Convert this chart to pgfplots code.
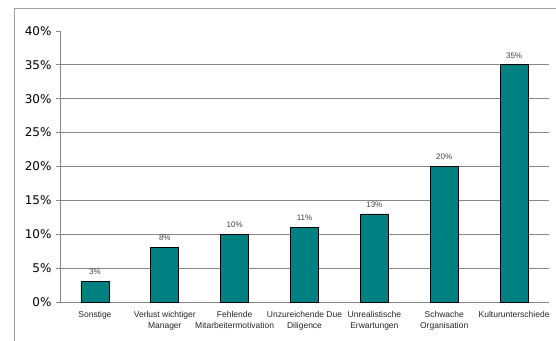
\documentclass[border=0pt]{standalone}
\usepackage{pgfplots}
\pgfplotsset{compat=1.18}
\usepackage{fontspec}
\setmainfont{Liberation Sans}
\newfontfamily\dejavu{DejaVu Sans}
\definecolor{barteal}{HTML}{008080}
\definecolor{gridgray}{HTML}{868686}
\definecolor{framegray}{HTML}{A0A0A0}
\begin{document}
\begin{tikzpicture}
\path[use as bounding box] (0pt,0pt) rectangle (556pt,340pt);
\draw[framegray, line width=1pt] (14pt,-5pt) -- (14pt,331pt) -- (560pt,331pt);
\begin{axis}[
  at={(60pt,38pt)}, anchor=south west,
  scale only axis, width=489pt, height=271pt,
  xmin=-0.5, xmax=6.5, ymin=0, ymax=40,
  axis x line*=bottom, axis y line*=left,
  axis line style={gridgray, line width=0.8pt},
  x axis line style={-}, y axis line style={-},
  ytick={0,5,...,35},
  extra y ticks={40}, extra y tick style={grid=none},
  yticklabel={{\dejavu\pgfmathprintnumber{\tick}\%}},
  extra y tick labels={{\dejavu 40\%}},
  ymajorgrids, grid style={gridgray, line width=0.8pt},
  major tick length=4pt,
  ytick style={gridgray, line width=0.8pt},
  tick align=outside,
  yticklabel style={font=\fontsize{12}{14}\selectfont, text=black, xshift=-1pt},
  xtick={0,...,6},
  xticklabels={Sonstige, Verlust wichtiger\\Manager, Fehlende\\Mitarbeitermotivation, Unzureichende Due\\Diligence, Unrealistische\\Erwartungen, Schwache\\Organisation, Kulturunterschiede},
  xticklabel style={font=\fontsize{8.5}{11}\selectfont, align=center, text=black!85, anchor=north, yshift=-2pt},
  x tick style={draw=none},
  minor xtick={-0.5,0.5,...,6.5},
  minor tick length=4pt,
  minor x tick style={gridgray, line width=0.8pt},
  /pgf/number format/assume math mode=true,
  clip=false,
]
\addplot[ybar, bar width=28pt, fill=barteal, draw=black, line width=0.8pt,
  nodes near coords={\pgfmathprintnumber{\pgfplotspointmeta}\%},
  every node near coord/.append style={font=\fontsize{8}{9}\selectfont, text=black!75, yshift=3pt}]
  coordinates {(0,3) (1,8) (2,10) (3,11) (4,13) (5,20) (6,35)};
\end{axis}
\end{tikzpicture}
\end{document}
